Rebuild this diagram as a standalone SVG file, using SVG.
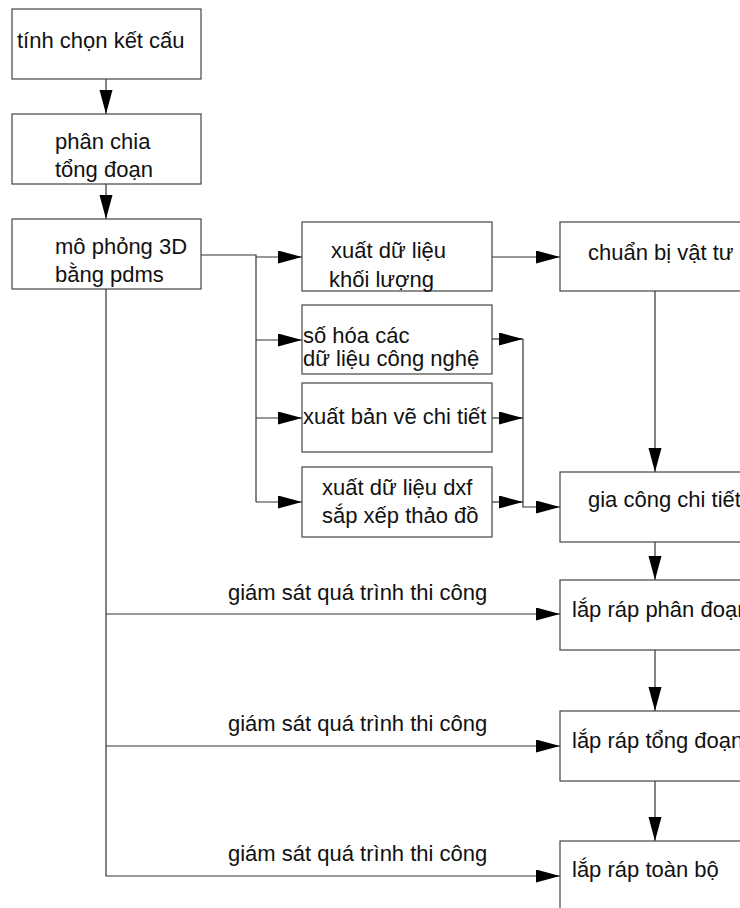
<svg xmlns="http://www.w3.org/2000/svg" width="740" height="908" viewBox="0 0 740 908">
<style>
rect{fill:#fff;stroke:#444;stroke-width:1.2}
text{font-family:"Liberation Sans",Arial,sans-serif;font-size:22px;fill:#111}
.c{fill:none;stroke:#333;stroke-width:1.2}
</style>
<defs>
<marker id="ah" markerUnits="userSpaceOnUse" markerWidth="26" markerHeight="14" refX="24" refY="6.5" orient="auto">
<path d="M0,0 L24,6.5 L0,13 Z" fill="#000"/>
</marker>
</defs>
<rect width="740" height="908" style="fill:#fff;stroke:none"/>
<g id="connectors">
<path class="c" d="M106,79 V114" marker-end="url(#ah)"/>
<path class="c" d="M106,184 V219" marker-end="url(#ah)"/>
<path class="c" d="M201,255 H256 V257 H302" marker-end="url(#ah)"/>
<path class="c" d="M256,257 V502"/>
<path class="c" d="M256,340 H302" marker-end="url(#ah)"/>
<path class="c" d="M256,418 H302" marker-end="url(#ah)"/>
<path class="c" d="M256,502 H302" marker-end="url(#ah)"/>
<path class="c" d="M492,257 H560" marker-end="url(#ah)"/>
<path class="c" d="M492,339 H523" marker-end="url(#ah)"/>
<path class="c" d="M492,418 H523" marker-end="url(#ah)"/>
<path class="c" d="M492,502 H523" marker-end="url(#ah)"/>
<path class="c" d="M523,339 V507 H560" marker-end="url(#ah)"/>
<path class="c" d="M655,291 V472" marker-end="url(#ah)"/>
<path class="c" d="M655,542 V580" marker-end="url(#ah)"/>
<path class="c" d="M655,650 V711" marker-end="url(#ah)"/>
<path class="c" d="M655,781 V841" marker-end="url(#ah)"/>
<path class="c" d="M106,289 V876 H560" marker-end="url(#ah)"/>
<path class="c" d="M106,614 H560" marker-end="url(#ah)"/>
<path class="c" d="M106,746 H560" marker-end="url(#ah)"/>
<text x="228" y="600">giám sát quá trình thi công</text>
<text x="228" y="731">giám sát quá trình thi công</text>
<text x="228" y="861">giám sát quá trình thi công</text>
</g>
<g id="n1"><rect x="12" y="9" width="189" height="70"/><text x="17" y="48">tính chọn kết cấu</text></g>
<g id="n2"><rect x="12" y="114" width="189" height="70"/><text x="55" y="149">phân chia</text><text x="55" y="177">tổng đoạn</text></g>
<g id="n3"><rect x="12" y="219" width="189" height="70"/><text x="55" y="254">mô phỏng 3D</text><text x="55" y="282">bằng pdms</text></g>
<g id="nA"><rect x="302" y="222" width="190" height="69"/><text x="331" y="258">xuất dữ liệu</text><text x="329" y="287">khối lượng</text></g>
<g id="nB"><rect x="302" y="305" width="190" height="69"/><text x="303" y="343">số hóa các</text><text x="303" y="366">dữ liệu công nghệ</text></g>
<g id="nC"><rect x="302" y="383" width="190" height="69"/><text x="303" y="424">xuất bản vẽ chi tiết</text></g>
<g id="nD"><rect x="302" y="467" width="190" height="70"/><text x="322" y="495">xuất dữ liệu dxf</text><text x="322" y="523">sắp xếp thảo đồ</text></g>
<g id="nR1"><rect x="560" y="222" width="200" height="69"/><text x="588" y="260">chuẩn bị vật tư</text></g>
<g id="nR2"><rect x="560" y="472" width="200" height="70"/><text x="588" y="507">gia công chi tiết</text></g>
<g id="nR3"><rect x="560" y="580" width="200" height="70"/><text x="572" y="617">lắp ráp phân đoạn</text></g>
<g id="nR4"><rect x="560" y="711" width="200" height="70"/><text x="572" y="748">lắp ráp tổng đoạn</text></g>
<g id="nR5"><rect x="560" y="841" width="200" height="80"/><text x="572" y="877">lắp ráp toàn bộ</text></g>
</svg>
